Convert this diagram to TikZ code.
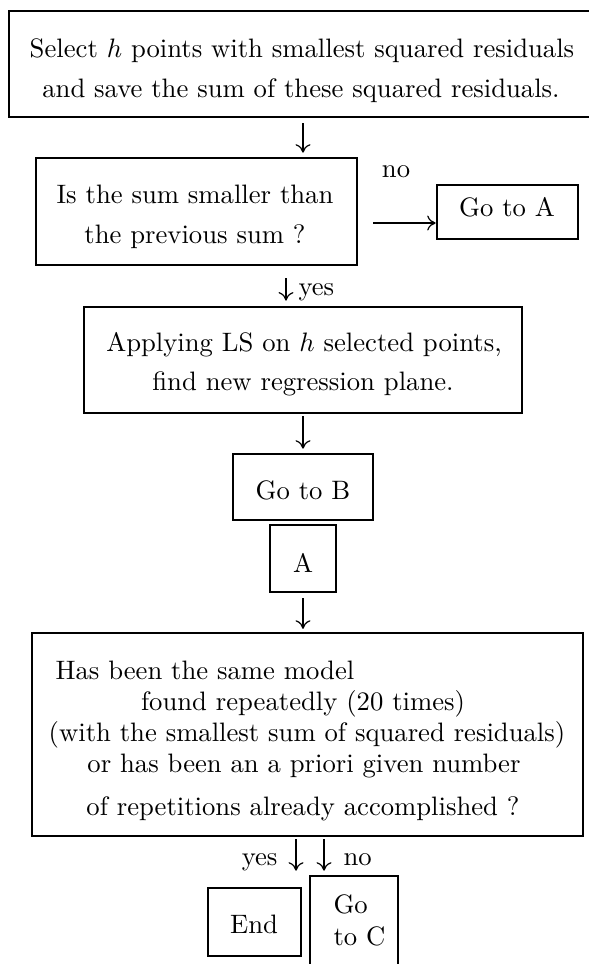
\documentclass[tikz,border=0pt]{standalone}
\usetikzlibrary{arrows.meta}
\begin{document}
\begin{tikzpicture}[x=0.375pt,y=-0.375pt,
  box/.style={draw, line width=0.95pt, inner sep=0pt},
  txt/.style={inner sep=0pt, anchor=base},
  txtl/.style={inner sep=0pt, anchor=base west},
  txtr/.style={inner sep=0pt, anchor=base east},
  arr/.style={line width=0.45pt, -{Computer Modern Rightarrow[length=3.2pt,width=5.6pt]}}]
\useasboundingbox (0,0) rectangle (588,964);
% boxes
\node[box, minimum width=587*0.375pt, minimum height=106*0.375pt] (b1) at (302.5,64) {};
\node[box, minimum width=321*0.375pt, minimum height=107*0.375pt] (b2) at (196.5,211.5) {};
\node[box, minimum width=141*0.375pt, minimum height=54*0.375pt] (goA) at (507.5,212) {};
\node[box, minimum width=438*0.375pt, minimum height=106*0.375pt] (b3) at (303,360) {};
\node[box, minimum width=140*0.375pt, minimum height=66*0.375pt] (goB) at (303,487) {};
\node[box, minimum width=66*0.375pt, minimum height=67*0.375pt] (bA) at (303,558.5) {};
\node[box, minimum width=551*0.375pt, minimum height=203*0.375pt] (b5) at (307.5,734.5) {};
\node[box, minimum width=93*0.375pt, minimum height=68*0.375pt] (bEnd) at (254.5,922) {};
\node[box, minimum width=88*0.375pt, minimum height=100*0.375pt] (goC) at (354,926) {};
% texts
\node[txt] (t1a) at (302,57) {Select $h$ points with smallest squared residuals};
\node[txt] (t1b) at (301,97) {and save the sum of these squared residuals.};
\node[txt] (t2a) at (195,203) {Is the sum smaller than};
\node[txt] (t2b) at (195,243) {the previous sum ?};
\node[txt] (no1) at (396,177) {no};
\node[txt] (tA) at (507,216) {Go to A};
\node[txtl] (yes1) at (298,295) {yes};
\node[txt] (t3a) at (304,351) {Applying LS on $h$ selected points,};
\node[txt] (t3b) at (303,390) {find new regression plane.};
\node[txt] (tB) at (303,499) {Go to B};
\node[txt] (tAA) at (303,572) {A};
\node[txtl] (t5a) at (55,679) {Has been the same model};
\node[txt] (t5b) at (303,710) {found repeatedly (20 times)};
\node[txt] (t5c) at (307,741) {(with the smallest sum of squared residuals)};
\node[txt] (t5d) at (304,772) {or has been an a priori given number};
\node[txt] (t5e) at (303,815) {of repetitions already accomplished ?};
\node[txtr] (yes2) at (278,865) {yes};
\node[txtl] (no2) at (343,865) {no};
\node[txt] (tEnd) at (254,933) {End};
\node[txtl] (tC1) at (333,913) {Go};
\node[txtl] (tC2) at (333,945) {to C};
% connector guides
\coordinate (xm) at (303,0);
\coordinate (xy) at (286,0);
\coordinate (xy2) at (296,0);
\coordinate (xn2) at (324,0);
\coordinate (yn) at (0,223);
% connectors
\draw[arr, shorten <=1.9pt, shorten >=1.5pt] (b1.south -| xm) -- (b2.north -| xm);
\draw[arr, shorten <=5.6pt] (b2.east |- yn) -- (goA.west |- yn);
\draw[arr, shorten <=4.5pt, shorten >=1.9pt] (b2.south -| xy) -- (b3.north -| xy);
\draw[arr, shorten <=0.8pt, shorten >=1.5pt] (b3.south -| xm) -- (goB.north -| xm);
\draw[arr, shorten <=1.9pt, shorten >=1.1pt] (bA.south -| xm) -- (b5.north -| xm);
\draw[arr, shorten <=0.8pt, shorten >=6pt] (b5.south -| xy2) -- (bEnd.north -| xy2);
\draw[arr, shorten <=0.8pt, shorten >=1.5pt] (b5.south -| xn2) -- (goC.north -| xn2);
\end{tikzpicture}
\end{document}
